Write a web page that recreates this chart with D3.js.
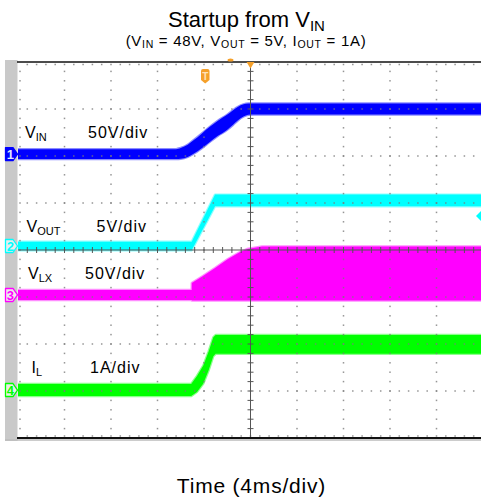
<!DOCTYPE html>
<html><head><meta charset="utf-8">
<script src="https://cdn.jsdelivr.net/npm/d3@7"></script>
<style>
html,body{margin:0;padding:0;background:#fff;}
svg{display:block;font-family:"Liberation Sans",Arial,Helvetica,sans-serif;}
</style>
</head><body>
<svg id="chart" width="481" height="499"></svg>
<script>
// ---------------- data ----------------
const titleMain = "Startup from V";
const titleSub = "IN";
const subtitleParts = [["(V",""],["IN","sub"],[" = 48V, V",""],["OUT","sub"],[" = 5V, I",""],["OUT","sub"],[" = 1A)",""]];
const timeLabel = "Time (4ms/div)";
const xGridDivs = [-5,-4,-3,-2,-1,0,1,2,3,4,5];
const yGridDivs = [-4,-3,-2,-1,0,1,2,3,4];
const timeRangeMs = [-20, 20];      // 10 div x 4 ms/div

// Channel 1: V_IN (V)
const vinT      = [-20, -6.4, -6.0, -5.4, -4.9, -4.2, -3.5, -2.8, -2.05, -1.5, -1.1, -0.6, -0.2, 0.3, 20];
const vinV      = [0, 0, 0.8, 3.5, 7.5, 14, 21, 27.5, 33.5, 39, 43, 46.5, 47.8, 48, 48];
const vinRipple = [5.3, 5.3, 5.8, 6.5, 7.2, 7.8, 8, 8, 8, 7.8, 7.2, 6.5, 6, 5.8, 5.8];
// Channel 2: V_OUT (V)
const voutT      = [-20, -5.06, -3.05, 20];
const voutV      = [0, 0, 4.85, 4.85];
const voutRipple = [0.45, 0.45, 0.62, 0.62];
// Channel 3: V_LX switching envelope (V)
const vlxT   = [-20, -5.06, -5.05, -4.09, -3.05, -1.94, -0.9, -0.3, 1.0, 20];
const vlxMax = [5.3, 5.3, 12.7, 20.2, 28.7, 38.3, 45.7, 48.9, 51.6, 51.6];
const vlxMin = [-5.3, -5.3, -5.8, -5.8, -5.8, -5.8, -5.8, -5.8, -5.8, -5.8];
// Channel 4: I_L (A)
const ilT      = [-20, -5.1, -4.6, -4.06, -3.6, -3.2, -3.0, 20];
const ilA      = [0, 0, 0.13, 0.33, 0.62, 0.92, 0.97, 0.97];
const ilRipple = [0.13, 0.13, 0.17, 0.19, 0.2, 0.2, 0.2, 0.2];

const chLabels = [
  {main:"V", sub:"IN",  scale:"50V/div"},
  {main:"V", sub:"OUT", scale:"5V/div"},
  {main:"V", sub:"LX",  scale:"50V/div"},
  {main:"I", sub:"L",   scale:"1A/div"}
];
// channel ground offsets (div) and units per div
const chOffsets = [2.04, 0.085, -0.957, -2.979];
const chPerDiv  = [50, 5, 50, 1];

// ---------------- style / layout ----------------
const colors = ["#0000ff", "#00ffff", "#ff00ff", "#00ff00"];
const plot = {left:18, right:483, top:62, bottom:438};
const labelPos = [
  {x:25, y:138, sx:88},
  {x:26.5, y:231.5, sx:96.5},
  {x:28, y:279, sx:85},
  {x:31.5, y:373, sx:90}
];

const svg = d3.select("#chart");
const x = d3.scaleLinear().domain(timeRangeMs).range([plot.left, plot.right]);
const yDiv = d3.scaleLinear().domain([-4, 4]).range([plot.bottom, plot.top]);
const minorMs = 4 / 5, minorDiv = 1 / 5;
const yCh = (i, v) => yDiv(chOffsets[i] + v / chPerDiv[i]);

// left gray strip
svg.append("rect").attr("x", 5).attr("y", 60).attr("width", 12.5).attr("height", 381).attr("fill", "#c9c9c9");

// clip
svg.append("defs").append("clipPath").attr("id", "clipP")
  .append("rect").attr("x", plot.left).attr("y", plot.top).attr("width", 481 - plot.left).attr("height", plot.bottom - plot.top);

const traces = svg.append("g").attr("clip-path", "url(#clipP)");

function band(i, T, lo, hi, curve) {
  const pts = T.map((t, k) => ({t, lo: lo[k], hi: hi[k]}));
  const area = d3.area().curve(curve).x(d => x(d.t)).y0(d => yCh(i, d.lo)).y1(d => yCh(i, d.hi));
  traces.append("path").attr("d", area(pts)).attr("fill", colors[i])
    .attr("stroke", colors[i]).attr("stroke-width", 2.4).attr("stroke-opacity", 0.45).attr("stroke-linejoin", "round");
}
band(0, vinT, vinV.map((v, k) => v - vinRipple[k]), vinV.map((v, k) => v + vinRipple[k]), d3.curveMonotoneX);
band(1, voutT, voutV.map((v, k) => v - voutRipple[k]), voutV.map((v, k) => v + voutRipple[k]), d3.curveLinear);
band(2, vlxT, vlxMin, vlxMax, d3.curveLinear);
band(3, ilT, ilA.map((v, k) => v - ilRipple[k]), ilA.map((v, k) => v + ilRipple[k]), d3.curveLinear);

// grid dots
const grid = svg.append("g");
const minorXs = d3.range(timeRangeMs[0], timeRangeMs[1] + 0.001, minorMs);
const minorYs = d3.range(-4, 4.001, minorDiv);
xGridDivs.filter(d => d !== 0).forEach(d => {
  let gx = x(d * 4);
  if (d === -5) gx += 2;
  if (gx > 480) return;
  minorYs.forEach(v => {
    const gy = yDiv(v);
    if (gy < plot.top + 1 || gy > plot.bottom - 1) return;
    grid.append("rect").attr("x", gx - 0.75).attr("y", gy - 0.75).attr("width", 1.5).attr("height", 1.5).attr("fill", "#7a7a7a").attr("opacity", 0.8);
  });
});
yGridDivs.filter(d => d !== 0).forEach(d => {
  let gy = yDiv(d);
  if (d === 4) gy += 2.5;
  if (d === -4) gy -= 2;
  minorXs.forEach(t => {
    const gx = x(t);
    if (gx < plot.left + 1 || gx > 481) return;
    grid.append("rect").attr("x", gx - 0.75).attr("y", gy - 0.75).attr("width", 1.5).attr("height", 1.5).attr("fill", "#7a7a7a").attr("opacity", 0.8);
  });
});

// center axes with ticks
const axes = svg.append("g").attr("stroke", "#555").attr("stroke-width", 1);
axes.append("line").attr("x1", x(0)).attr("x2", x(0)).attr("y1", plot.top).attr("y2", plot.bottom);
axes.append("line").attr("x1", plot.left).attr("x2", 481).attr("y1", yDiv(0)).attr("y2", yDiv(0));
minorYs.forEach(v => {
  const gy = yDiv(v);
  if (gy < plot.top + 1 || gy > plot.bottom - 1) return;
  axes.append("line").attr("x1", x(0) - 3).attr("x2", x(0) + 3).attr("y1", gy).attr("y2", gy);
});
minorXs.forEach(t => {
  const gx = x(t);
  if (gx < plot.left + 1 || gx > 481) return;
  axes.append("line").attr("x1", gx).attr("x2", gx).attr("y1", yDiv(0) - 3).attr("y2", yDiv(0) + 3);
});

// borders
svg.append("line").attr("x1", plot.left - 1).attr("x2", 481).attr("y1", plot.top).attr("y2", plot.top).attr("stroke", "#111").attr("stroke-width", 1.5);
svg.append("line").attr("x1", plot.left - 1).attr("x2", 481).attr("y1", plot.bottom).attr("y2", plot.bottom).attr("stroke", "#111").attr("stroke-width", 2);
svg.append("line").attr("x1", 5).attr("x2", 481).attr("y1", plot.bottom + 2).attr("y2", plot.bottom + 2).attr("stroke", "#bbb").attr("stroke-width", 1.5);

// channel markers on the left
chOffsets.forEach((o, i) => {
  const cy = yDiv(o);
  const p = `M5.5,${cy - 6.5} L13,${cy - 6.5} L17.5,${cy} L13,${cy + 6.5} L5.5,${cy + 6.5} Z`;
  svg.append("path").attr("d", p).attr("fill", i === 0 ? colors[0] : "#ececec")
    .attr("stroke", colors[i]).attr("stroke-width", 1.3).attr("stroke-linejoin", "round");
  svg.append("text").attr("x", 10.3).attr("y", cy + 4.6).attr("text-anchor", "middle")
    .attr("font-size", 13).attr("font-weight", "bold")
    .attr("fill", i === 0 ? "#dfe6ff" : colors[i]).text(String(i + 1));
});

// trigger markers
const orange = "#f5a02a";
svg.append("path").attr("d", `M${x(0) - 4},${plot.top} L${x(0) + 4},${plot.top} L${x(0)},${plot.top + 6.5} Z`).attr("fill", orange);
svg.append("ellipse").attr("cx", 230.5).attr("cy", 60).attr("rx", 3).attr("ry", 1.6).attr("fill", orange);
svg.append("path").attr("d", "M201,71 Q201,69 203,69 L207.5,69 Q209.5,69 209.5,71 L209.5,80 L205.2,83.5 L201,80 Z").attr("fill", orange);
svg.append("text").attr("x", 205.3).attr("y", 79.5).attr("text-anchor", "middle").attr("font-size", 10).attr("font-weight", "bold").attr("fill", "#ffe2b8").text("T");
// VOUT level marker on the right
svg.append("path").attr("d", "M476,216 L481,211 L481,221 Z").attr("fill", colors[1]);

// titles
const t1 = svg.append("text").attr("x", 246.5).attr("y", 27).attr("text-anchor", "middle").attr("font-size", 22).attr("fill", "#000");
t1.append("tspan").text(titleMain);
t1.append("tspan").attr("font-size", 15).attr("dy", 4).text(titleSub);

const t2 = svg.append("text").attr("x", 246).attr("y", 45.5).attr("text-anchor", "middle").attr("font-size", 15).attr("letter-spacing", 0.7).attr("fill", "#000");
subtitleParts.forEach(([s, k]) => {
  if (k === "sub") t2.append("tspan").attr("font-size", 10.5).attr("dy", 2).text(s);
  else t2.append("tspan").attr("dy", s.startsWith(" ") ? -2 : 0).text(s);
});

chLabels.forEach((l, i) => {
  const p = labelPos[i];
  const t = svg.append("text").attr("x", p.x).attr("y", p.y).attr("font-size", 16).attr("fill", "#000");
  t.append("tspan").text(l.main);
  t.append("tspan").attr("font-size", 11).attr("dy", 3).text(l.sub);
  svg.append("text").attr("x", p.sx).attr("y", p.y).attr("font-size", 16).attr("letter-spacing", 1).attr("fill", "#000").text(l.scale);
});

svg.append("text").attr("x", 251.5).attr("y", 492.5).attr("text-anchor", "middle").attr("font-size", 21).attr("letter-spacing", 0.8).attr("fill", "#000").text(timeLabel);
</script>
</body></html>
